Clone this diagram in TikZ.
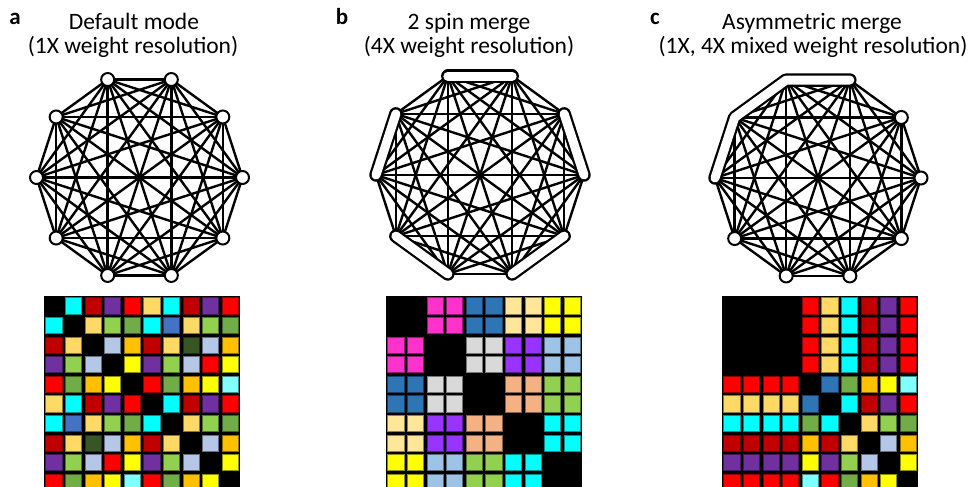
\documentclass[tikz,border=0pt]{standalone}
\usepackage{fontspec}
\setmainfont{Carlito}
% weight colours
\definecolor{wK}{HTML}{000000}
\definecolor{wCy}{HTML}{00FFFF}
\definecolor{wDR}{HTML}{C00000}
\definecolor{wPu}{HTML}{7030A0}
\definecolor{wRd}{HTML}{FF0000}
\definecolor{wGo}{HTML}{FFD966}
\definecolor{wLG}{HTML}{92D050}
\definecolor{wGr}{HTML}{70AD47}
\definecolor{wBl}{HTML}{4472C4}
\definecolor{wLB}{HTML}{B4C7E7}
\definecolor{wOr}{HTML}{FFC000}
\definecolor{wDG}{HTML}{375623}
\definecolor{wYe}{HTML}{FFFF00}
\definecolor{wLC}{HTML}{80FFFF}
\definecolor{wMg}{HTML}{FF33CC}
\definecolor{wSB}{HTML}{2E75B6}
\definecolor{wPe}{HTML}{FFE699}
\definecolor{wGy}{HTML}{D9D9D9}
\definecolor{wVi}{HTML}{9933FF}
\definecolor{wSk}{HTML}{9DC3E6}
\definecolor{wSa}{HTML}{F4B183}

% ten spin positions on a ring: prefix, centre x, centre y, radius
\newcommand{\ringcoords}[4]{%
  \foreach \k in {0,...,9} {
    \coordinate (#1\k) at ({#2+#4*cos(36*\k)}, {#3-#4*sin(36*\k)});
  }%
}
% all-to-all couplings between the ten positions
\newcommand{\alltoall}[1]{%
  \foreach \i in {0,...,8} {
    \pgfmathtruncatemacro{\inext}{\i+1}
    \foreach \j in {\inext,...,9} { \draw[bond] (#1\i) -- (#1\j); }
  }%
}
% 10x10 weight matrix: top-left x, top-left y, rows of colours
\newcommand{\weightgrid}[3]{%
  \fill[black] (#1,#2) rectangle ++(196,196);
  \foreach \row [count=\i from 0] in {#3} {
    \foreach \col [count=\j from 0] in \row {
      \filldraw[fill=\col, draw=\col!55!black, line width=0.8pt]
        ({#1+\j*19.6+1.7},{#2+\i*19.6+1.7}) rectangle ++(16.2,16.2);
    }
  }%
}

\begin{document}
\begin{tikzpicture}[x=1pt,y=-1pt]
\tikzset{
  bond/.style={line width=2.4pt, black},
  spin/.style={circle, draw=black, fill=white, line width=2pt,
               minimum size=13pt, inner sep=0pt},
  barout/.style={line width=13.5pt, black, line cap=round, line join=round},
  barin/.style={line width=9pt, white, line cap=round, line join=round},
  title/.style={font=\fontsize{23.5}{28}\selectfont, anchor=base, inner sep=0pt},
  plabel/.style={font=\fontsize{23}{26}\selectfont\bfseries, anchor=base, inner sep=0pt},
}
\useasboundingbox (0,0) rectangle (980,487);
\clip (0,0) rectangle (980,487);
\fill[white] (0,0) rectangle (980,487);

% headings
\node[plabel] (la) at (15,25) {a};
\node[title] (ta1) at (134,30) {Default mode};
\node[title] (ta2) at (133,54) {(1X weight resolution)};
\node[plabel] (lb) at (342,25) {b};
\node[title] (tb1) at (469,30) {2 spin merge};
\node[title] (tb2) at (469,54) {(4X weight resolution)};
\node[plabel] (lc) at (655,25) {c};
\node[title] (tc1) at (812,30) {Asymmetric merge};
\node[title] (tc2) at (813,54) {(1X, 4X mixed weight resolution)};

% a: ten independent spins
\ringcoords{a}{139.5}{177.5}{103}
\alltoall{a}
\foreach \k in {0,...,9} { \node[spin] (sa\k) at (a\k) {}; }

% b: spins merged in pairs
\ringcoords{b}{480}{175}{104}
\alltoall{b}
\foreach \p/\q in {0/1,2/3,4/5,6/7,8/9} {
  \draw[barout] (b\p) -- (b\q);
  \draw[barin] (b\p) -- (b\q);
}

% c: four spins merged, six independent
\ringcoords{c}{818}{178}{103}
\alltoall{c}
\draw[barout] (c2) -- (c3) -- (c4) -- (c5);
\draw[barin] (c2) -- (c3) -- (c4) -- (c5);
\foreach \k in {0,1,6,7,8,9} { \node[spin] (sc\k) at (c\k) {}; }

% weight matrices
\weightgrid{44}{296}{%
 {wK,wCy,wDR,wPu,wRd,wGo,wCy,wDR,wPu,wRd},
 {wCy,wK,wGo,wLG,wGr,wCy,wBl,wGo,wLG,wGr},
 {wDR,wGo,wK,wLB,wOr,wDR,wGo,wDG,wLB,wOr},
 {wPu,wLG,wLB,wK,wYe,wPu,wLG,wLB,wRd,wYe},
 {wRd,wGr,wOr,wYe,wK,wRd,wGr,wOr,wYe,wLC},
 {wGo,wCy,wDR,wPu,wRd,wK,wCy,wDR,wPu,wRd},
 {wCy,wBl,wGo,wLG,wGr,wCy,wK,wGo,wLG,wGr},
 {wDR,wGo,wDG,wLB,wOr,wDR,wGo,wK,wLB,wOr},
 {wPu,wLG,wLB,wRd,wYe,wPu,wLG,wLB,wK,wYe},
 {wRd,wGr,wOr,wYe,wLC,wRd,wGr,wOr,wYe,wK}}

\weightgrid{386}{296}{%
 {wK,wK,wMg,wMg,wSB,wSB,wPe,wPe,wYe,wYe},
 {wK,wK,wMg,wMg,wSB,wSB,wPe,wPe,wYe,wYe},
 {wMg,wMg,wK,wK,wGy,wGy,wVi,wVi,wSk,wSk},
 {wMg,wMg,wK,wK,wGy,wGy,wVi,wVi,wSk,wSk},
 {wSB,wSB,wGy,wGy,wK,wK,wSa,wSa,wLG,wLG},
 {wSB,wSB,wGy,wGy,wK,wK,wSa,wSa,wLG,wLG},
 {wPe,wPe,wVi,wVi,wSa,wSa,wK,wK,wCy,wCy},
 {wPe,wPe,wVi,wVi,wSa,wSa,wK,wK,wCy,wCy},
 {wYe,wYe,wSk,wSk,wLG,wLG,wCy,wCy,wK,wK},
 {wYe,wYe,wSk,wSk,wLG,wLG,wCy,wCy,wK,wK}}

\weightgrid{722}{296}{%
 {wK,wK,wK,wK,wRd,wGo,wCy,wDR,wPu,wRd},
 {wK,wK,wK,wK,wRd,wGo,wCy,wDR,wPu,wRd},
 {wK,wK,wK,wK,wRd,wGo,wCy,wDR,wPu,wRd},
 {wK,wK,wK,wK,wRd,wGo,wCy,wDR,wPu,wRd},
 {wRd,wRd,wRd,wRd,wK,wSB,wGr,wOr,wYe,wLC},
 {wGo,wGo,wGo,wGo,wSB,wK,wCy,wDR,wPu,wRd},
 {wCy,wCy,wCy,wCy,wGr,wCy,wK,wGo,wLG,wGr},
 {wDR,wDR,wDR,wDR,wOr,wDR,wGo,wK,wLB,wOr},
 {wPu,wPu,wPu,wPu,wYe,wPu,wLG,wLB,wK,wYe},
 {wRd,wRd,wRd,wRd,wLC,wRd,wGr,wOr,wYe,wK}}
\end{tikzpicture}
\end{document}
